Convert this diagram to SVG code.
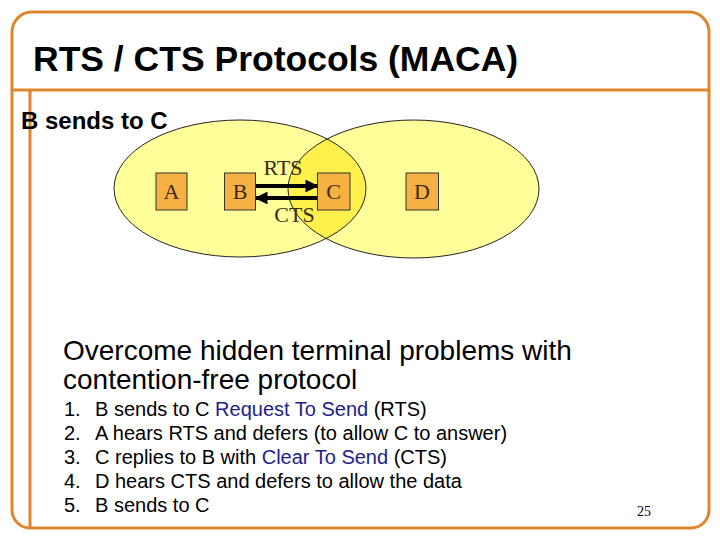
<svg xmlns="http://www.w3.org/2000/svg" width="720" height="540" viewBox="0 0 720 540">
<style>
.frame{fill:none;stroke:#E0862A;stroke-width:3}
.ell{fill:#FFFF99}
.ellS{fill:none;stroke:#222;stroke-width:1}
.box{fill:#F5B243;stroke:#333;stroke-width:1}
.mono{font-family:"Liberation Serif","Times New Roman",serif;font-size:22px;fill:#3a2a10}
.sans{font-family:"Liberation Sans",Arial,sans-serif;fill:#000}
.blue{fill:#1E1E8E}
.arr{stroke:#000;stroke-width:4;fill:none}
</style>
<defs>
<marker id="ah" viewBox="0 0 10 10" refX="9" refY="5" markerWidth="3.2" markerHeight="3.2" orient="auto" markerUnits="strokeWidth">
<path d="M0,0 L10,5 L0,10 z" fill="#000"/>
</marker>
<clipPath id="clipR"><ellipse cx="413.5" cy="189" rx="125.5" ry="69"/></clipPath>
</defs>
<rect width="720" height="540" fill="#fff"/>
<g id="frame">
<path class="frame" d="M12,32 A20,20 0 0 1 32,12 L689,12 A20,20 0 0 1 709,32 L709,510 A18,18 0 0 1 691,528 L30,528 A18,18 0 0 1 12,510 Z"/>
<line class="frame" x1="12" y1="90" x2="709" y2="90"/>
<line class="frame" x1="30" y1="90" x2="30" y2="528"/>
</g>
<g id="title"><text class="sans" x="33" y="71" font-size="35.5" font-weight="bold">RTS / CTS Protocols (MACA)</text></g>
<g id="subtitle"><text class="sans" x="21" y="129" font-size="24" font-weight="bold">B sends to C</text></g>
<g id="ranges">
<ellipse class="ell" cx="240" cy="188.5" rx="126" ry="68.5"/>
<ellipse class="ell" cx="413.5" cy="189" rx="125.5" ry="69"/>
<ellipse cx="240" cy="188.5" rx="126" ry="68.5" fill="#FFF04C" clip-path="url(#clipR)"/>
<ellipse class="ellS" cx="240" cy="188.5" rx="126" ry="68.5"/>
<ellipse class="ellS" cx="413.5" cy="189" rx="125.5" ry="69"/>
</g>
<g id="node-A"><rect class="box" x="156" y="173" width="31" height="37"/><text class="mono" x="171.5" y="199" text-anchor="middle">A</text></g>
<g id="node-B"><rect class="box" x="224.5" y="173" width="31" height="37"/><text class="mono" x="240" y="199" text-anchor="middle">B</text></g>
<g id="node-C"><rect class="box" x="317.5" y="173" width="32.5" height="37"/><text class="mono" x="333.5" y="199" text-anchor="middle">C</text></g>
<g id="node-D"><rect class="box" x="406" y="173" width="32.5" height="37"/><text class="mono" x="422" y="199" text-anchor="middle">D</text></g>
<g id="connectors">
<line class="arr" x1="256" y1="186" x2="317" y2="186" marker-end="url(#ah)"/>
<line class="arr" x1="317" y1="198" x2="256" y2="198" marker-end="url(#ah)"/>
<text class="mono" x="283" y="175" text-anchor="middle" fill="#222">RTS</text>
<text class="mono" x="294.5" y="222" text-anchor="middle" fill="#222">CTS</text>
</g>
<g id="body" class="sans">
<text class="sans" x="63" y="360" font-size="28">Overcome hidden terminal problems with</text>
<text class="sans" x="63" y="389" font-size="28">contention-free protocol</text>
<g font-size="20">
<text class="sans" x="64" y="416">1.</text><text class="sans" x="95" y="416">B sends to C <tspan class="blue">Request To Send</tspan> (RTS)</text>
<text class="sans" x="64" y="440">2.</text><text class="sans" x="95" y="440">A hears RTS and defers (to allow C to answer)</text>
<text class="sans" x="64" y="464">3.</text><text class="sans" x="95" y="464">C replies to B with <tspan class="blue">Clear To Send</tspan> (CTS)</text>
<text class="sans" x="64" y="488">4.</text><text class="sans" x="95" y="488">D hears CTS and defers to allow the data</text>
<text class="sans" x="64" y="512">5.</text><text class="sans" x="95" y="512">B sends to C</text>
</g>
</g>
<g id="page"><text x="637" y="516" font-family="'Liberation Serif','Times New Roman',serif" font-size="14" fill="#000">25</text></g>
</svg>
